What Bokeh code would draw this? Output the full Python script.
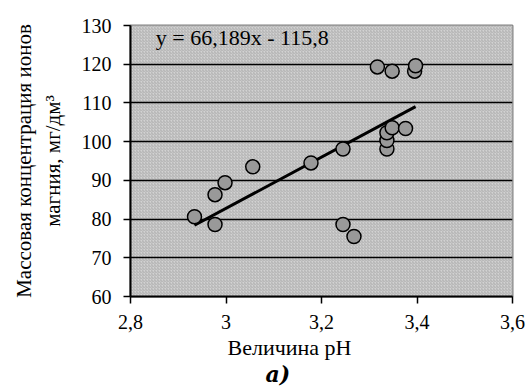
from bokeh.plotting import figure
from bokeh.models import (Range1d, FixedTicker, CustomJSTickFormatter, Label, BoxAnnotation, Title)
from bokeh.embed import file_html
from bokeh.resources import INLINE

# data
ph = [2.934, 2.977, 2.977, 2.998, 3.056, 3.178, 3.245, 3.245, 3.268,
      3.317, 3.348, 3.395, 3.397, 3.337, 3.337, 3.337, 3.348, 3.376]
mg = [80.6, 78.6, 86.3, 89.4, 93.5, 94.5, 98.1, 78.6, 75.5,
      119.3, 118.2, 118.2, 119.6, 98.1, 100.3, 102.3, 103.6, 103.4]
slope = 66.189
intercept = -115.8
x_ticks = [2.8, 3.0, 3.2, 3.4, 3.6]
y_ticks = [60, 70, 80, 90, 100, 110, 120, 130]
eq_text = "y = 66,189x - 115,8"
x_title = "Величина pH"
y_title_1 = "Массовая концентрация ионов"
y_title_2 = "магния, мг/дм³"
caption = "а)"

SERIF = "Liberation Serif"

p = figure(width=529, height=390, output_backend="svg", toolbar_location=None,
           x_range=Range1d(2.8, 3.6), y_range=Range1d(60, 130),
           min_border_left=130, min_border_right=17, min_border_top=25,
           min_border_bottom=94)
p.background_fill_color = "#cccccc"
p.border_fill_color = "white"
p.outline_line_color = "#808080"
p.outline_line_width = 2

bg = BoxAnnotation(fill_color="#d2d2d2", fill_alpha=1.0, line_alpha=0,
                   hatch_pattern="right_diagonal_line", hatch_color="#b2b2b2",
                   hatch_scale=3, hatch_weight=1, level="image")
p.add_layout(bg)

p.xgrid.visible = False
p.ygrid.grid_line_color = "black"
p.ygrid.grid_line_width = 1.5
p.ygrid.ticker = FixedTicker(ticks=y_ticks[1:-1])
p.ygrid.level = "underlay"

fmt = CustomJSTickFormatter(code="""
const s = (Math.round(tick*10)/10).toString();
return s.replace('.', ',');
""")
p.xaxis.ticker = FixedTicker(ticks=x_ticks)
p.yaxis.ticker = FixedTicker(ticks=y_ticks)
p.xaxis.formatter = fmt
for ax in (p.xaxis, p.yaxis):
    ax.axis_line_color = "black"
    ax.axis_line_width = 2
    ax.major_tick_line_color = "black"
    ax.major_tick_line_width = 1.5
    ax.major_tick_out = 7
    ax.major_tick_in = 0
    ax.minor_tick_line_color = None
    ax.major_label_text_font = SERIF
    ax.major_label_text_font_size = "20px"
    ax.major_label_text_color = "black"
p.xaxis.major_label_standoff = 11
p.yaxis.major_label_standoff = 12

p.yaxis.axis_label = y_title_1 + "\n" + y_title_2
p.yaxis.axis_label_text_font = SERIF
p.yaxis.axis_label_text_font_style = "normal"
p.yaxis.axis_label_text_font_size = "21px"
p.yaxis.axis_label_text_color = "black"
p.yaxis.axis_label_standoff = 14

p.add_layout(Title(text=x_title, align="left", offset=97, text_font=SERIF,
                   text_font_style="normal", text_font_size="22px",
                   text_color="black", standoff=3), "below")
p.add_layout(Title(text=caption, align="left", offset=135, text_font="DejaVu Serif",
                   text_font_style="bold italic", text_font_size="22px",
                   text_color="black", standoff=-5), "below")

# trend line from the equation, spanning the data
xs = [min(ph), max(ph)]
ys = [slope * v + intercept for v in xs]
p.line(xs, ys, line_color="black", line_width=3)

p.scatter(ph, mg, size=14, fill_color="#999999", line_color="black", line_width=1.5)

p.add_layout(Label(x=2.853, y=126.9, text=eq_text, text_font=SERIF, text_color="black",
                   text_font_size="22px", text_baseline="middle", text_align="left"))

open("out.html", "w").write(file_html(p, INLINE))
